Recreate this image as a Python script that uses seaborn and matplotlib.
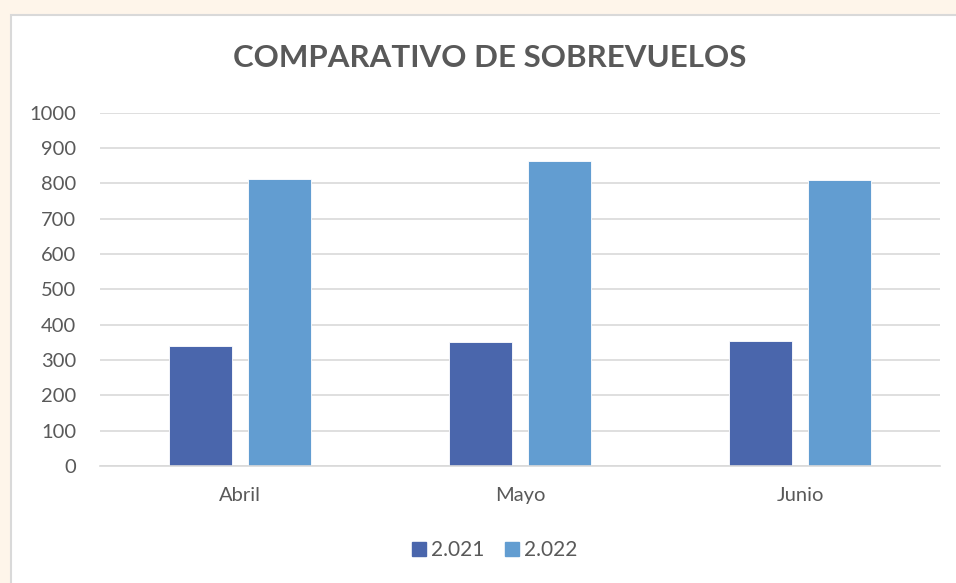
import pandas as pd
import matplotlib
matplotlib.use('Agg')
import matplotlib.pyplot as plt
import matplotlib.patches as mpatches
import seaborn as sns

# Datos
meses = ['Abril', 'Mayo', 'Junio']
anios = ['2.021', '2.022']
vuelos_2021 = [339, 352, 353]
vuelos_2022 = [811, 862, 810]
colores = ['#4A66AC', '#629DD1']
ticks_y = list(range(0, 1001, 100))

GRIS_TEXTO = '#595959'
GRIS_LINEA = '#D9D9D9'

df = pd.DataFrame({
    'Mes': meses * 2,
    'Año': [anios[0]] * len(meses) + [anios[1]] * len(meses),
    'Vuelos': vuelos_2021 + vuelos_2022,
})

sns.set_style('white')
plt.rcParams['font.family'] = ['Lato', 'DejaVu Sans']

W, H = 956, 583
fig = plt.figure(figsize=(W / 100, H / 100), dpi=100)
fig.patch.set_facecolor('#FEF5EA')

# marco blanco del grafico
marco = mpatches.Rectangle((10.5 / W, -0.05), 1.0, (H - 14.5) / H + 0.05,
                           transform=fig.transFigure, facecolor='white',
                           edgecolor=GRIS_LINEA, linewidth=1.5, zorder=-1)
fig.patches.append(marco)

ax = fig.add_axes([100 / W, (H - 466) / H, 840 / W, (466 - 112.7) / H])
ax.set_facecolor('none')
ax.set_zorder(2)

sns.barplot(data=df, x='Mes', y='Vuelos', hue='Año', hue_order=anios,
            palette=colores, width=0.57, gap=0.21, ax=ax,
            edgecolor='white', linewidth=0.6, saturation=1, legend=False)

ax.set_ylim(0, 1000)
ax.set_yticks(ticks_y)
ax.set_xlim(-0.5, len(meses) - 0.5)
ax.yaxis.grid(True, color=GRIS_LINEA, linewidth=1.2)
ax.set_axisbelow(True)
for lado in ['top', 'right', 'left']:
    ax.spines[lado].set_visible(False)
ax.spines['bottom'].set_color(GRIS_LINEA)
ax.spines['bottom'].set_linewidth(1.2)
ax.tick_params(axis='both', length=0, labelsize=14.5, labelcolor=GRIS_TEXTO)
ax.tick_params(axis='x', pad=15)
ax.tick_params(axis='y', pad=17)
ax.set_xlabel('')
ax.set_ylabel('')

fig.text(490 / W, 1 - 58 / H, 'COMPARATIVO DE SOBREVUELOS', ha='center',
         va='center', fontsize=22.5, fontweight='bold', color=GRIS_TEXTO)

manejadores = [mpatches.Patch(color=c, label=a) for c, a in zip(colores, anios)]
fig.legend(handles=manejadores, loc='center', bbox_to_anchor=(495 / W, 1 - 550 / H),
           ncol=2, frameon=False, fontsize=15, labelcolor=GRIS_TEXTO,
           handlelength=0.65, handleheight=0.65, handletextpad=0.25,
           columnspacing=1.0)

fig.savefig('out.png', dpi=100, facecolor=fig.get_facecolor())
